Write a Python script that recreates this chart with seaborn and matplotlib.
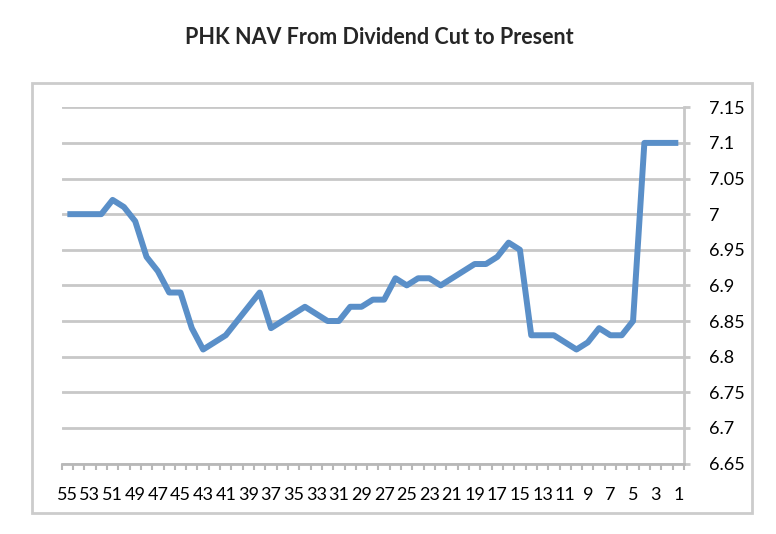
import numpy as np
import pandas as pd
import matplotlib.pyplot as plt
import seaborn as sns
from matplotlib.patches import Rectangle
from matplotlib.ticker import FixedLocator, FixedFormatter

# periods counted back from today (55 = dividend cut, 1 = present)
periods = list(range(55, 0, -1))
nav = [7.00, 7.00, 7.00, 7.00, 7.02, 7.01, 6.99, 6.94, 6.92, 6.89,
       6.89, 6.84, 6.81, 6.82, 6.83, 6.85, 6.87, 6.89, 6.84, 6.85,
       6.86, 6.87, 6.86, 6.85, 6.85, 6.87, 6.87, 6.88, 6.88, 6.91,
       6.90, 6.91, 6.91, 6.90, 6.91, 6.92, 6.93, 6.93, 6.94, 6.96,
       6.95, 6.83, 6.83, 6.83, 6.82, 6.81, 6.82, 6.84, 6.83, 6.83,
       6.85, 7.10, 7.10, 7.10, 7.10]
y_ticks = [6.65, 6.7, 6.75, 6.8, 6.85, 6.9, 6.95, 7.0, 7.05, 7.1, 7.15]

df = pd.DataFrame({"pos": np.arange(len(periods)), "period": periods, "nav": nav})

sns.set_style("white")
plt.rcParams['font.family'] = ['Lato', 'DejaVu Sans']

fig = plt.figure(figsize=(7.76, 5.34), dpi=100)
ax = fig.add_axes([0.0795, 0.132, 0.8019, 0.6671])

grid_c = '#c8c8c8'
for v in y_ticks:
    ax.axhline(v, color=grid_c, lw=2, zorder=1)

sns.lineplot(data=df, x="pos", y="nav", ax=ax, color='#5a8fc8', lw=4.3,
             zorder=3, solid_joinstyle='round', solid_capstyle='butt')

ax.set_xlim(-0.5, len(periods) - 0.5)
ax.set_ylim(6.65, 7.15)
ax.set_xlabel('')
ax.set_ylabel('')

# y axis on the right
ax.yaxis.tick_right()
ax.set_yticks(y_ticks)
ax.set_yticklabels([f'{v:g}' for v in y_ticks])
ax.tick_params(axis='y', which='major', length=4, width=2, color=grid_c,
               pad=14, labelsize=13, labelcolor='black')

# x axis: tick marks between categories, labels every other category
bounds = np.arange(len(periods) + 1) - 0.5
ax.xaxis.set_major_locator(FixedLocator(bounds))
ax.xaxis.set_major_formatter(FixedFormatter([''] * len(bounds)))
lab_pos = df["pos"][::2].tolist()
ax.xaxis.set_minor_locator(FixedLocator(lab_pos))
ax.xaxis.set_minor_formatter(FixedFormatter([str(p) for p in df["period"][::2]]))
ax.tick_params(axis='x', which='major', length=4, width=1.5, color='#b8b8b8', bottom=True)
ax.tick_params(axis='x', which='minor', length=0, pad=17, labelsize=13,
               labelcolor='black', bottom=True)

for side in ['top', 'left']:
    ax.spines[side].set_visible(False)
ax.spines['right'].set_color(grid_c)
ax.spines['right'].set_linewidth(2)
ax.spines['bottom'].set_color('#b8b8b8')
ax.spines['bottom'].set_linewidth(2)

# outer chart border
fig.patches.append(Rectangle((31.7 / 776, 1 - 513.3 / 534), (751.7 - 31.7) / 776,
                             (513.3 - 82.7) / 534, transform=fig.transFigure,
                             fill=False, edgecolor='#cccccc', lw=2))

fig.text(379 / 776, 1 - 38 / 534, 'PHK NAV From Dividend Cut to Present',
         ha='center', va='center', fontsize=15.5, fontweight='bold')

fig.savefig('out.png', dpi=100)
